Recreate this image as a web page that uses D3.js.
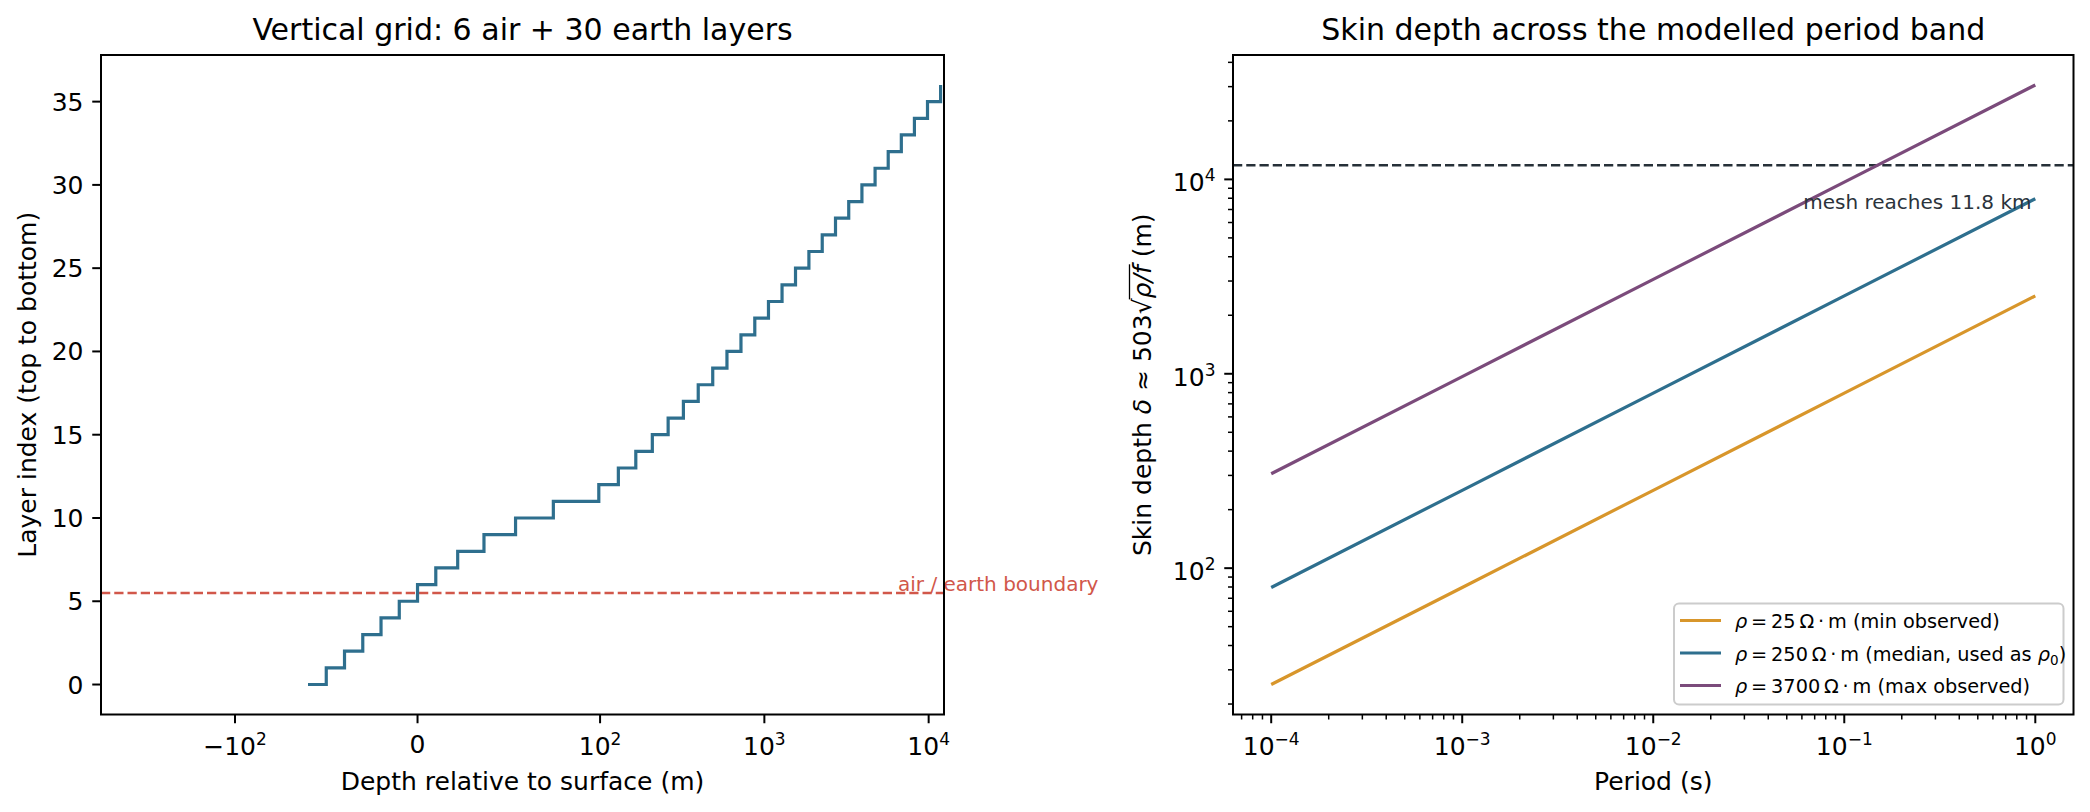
<!DOCTYPE html>
<html>
<head>
<meta charset="utf-8">
<script src="https://cdn.jsdelivr.net/npm/d3@7"></script>
<style>
  html, body { margin: 0; padding: 0; background: #fff; }
  svg { display: block; font-family: "DejaVu Sans", sans-serif; }
</style>
</head>
<body>
<svg id="chart" width="2090" height="812"></svg>
<script>
// ---------------- data ----------------
// left panel: node depths (m), air nodes negative, earth nodes positive
const airNodeDepths = [-60, -50, -40, -30, -20, -10];
const earthNodeDepths = [0, 10, 22, 36.4, 53.7, 74.4, 99.3, 129.2, 165.0, 208.0, 259.6,
  321.5, 395.8, 485.0, 592.0, 720.4, 874.4, 1059.3, 1281.2, 1547.4, 1866.9,
  2250.3, 2710.3, 3262.4, 3924.8, 4719.8, 5673.8, 6818.5, 8192.2, 9840.7, 11818.8];
const boundaryIndex = 5.5;
const leftXLimits = [-654, 12400];
const leftXTicks = [-100, 0, 100, 1000, 10000];
const leftXTickLabels = [["\u221210", "2"], ["0", ""], ["10", "2"], ["10", "3"], ["10", "4"]];
const leftYTicks = [0, 5, 10, 15, 20, 25, 30, 35];

// right panel: skin depth vs period
const periods = [1e-4, 1e-3, 1e-2, 1e-1, 1];
const depthRho25 = [25.2, 79.5, 251.5, 795, 2515];
const depthRho250 = [79.5, 251.5, 795, 2515, 7954];
const depthRho3700 = [306, 967, 3060, 9675, 30596];
const meshDepth = 11818.8;
const seriesNames = ["25", "250", "3700"];
const seriesNotes = ["(min observed)", "(median, used as \u03C1\u2080)", "(max observed)"];
const seriesColors = ["#d8962b", "#2e6f8e", "#7b4b7b"];
const rightXTickExp = [-4, -3, -2, -1, 0];
const rightYTickExp = [2, 3, 4];

// ---------------- layout ----------------
const svg = d3.select("#chart");
const FONT = 25, SMALL = 20, LEG = 19.3;
const LW = 3.2;
const LA = {x0: 101, x1: 944, y0: 55, y1: 714.5};
const RA = {x0: 1233, x1: 2073.5, y0: 55, y1: 714.5};
const TICK = 8.75, MINOR = 5, PAD = 8.75;

// symlog (linthresh 100, linscale 1) like matplotlib
const LT = 100, LS = 1 / (1 - 0.1);
function symT(v) { const a = Math.abs(v); return a <= LT ? v / LT * LS : Math.sign(v) * (LS + Math.log10(a / LT)); }
const xLin = d3.scaleLinear().domain(leftXLimits.map(symT)).range([LA.x0, LA.x1]);
const xL = v => xLin(symT(v));
const nodes = airNodeDepths.concat(earthNodeDepths);
const yL = d3.scaleLinear().domain([-0.05 * (nodes.length - 1), 1.05 * (nodes.length - 1)]).range([LA.y1, LA.y0]);

const tExt = d3.extent(periods).map(Math.log10);
const tM = 0.05 * (tExt[1] - tExt[0]);
const xR = d3.scaleLog().domain([10 ** (tExt[0] - tM), 10 ** (tExt[1] + tM)]).range([RA.x0, RA.x1]);
const dExt = d3.extent(depthRho25.concat(depthRho250, depthRho3700)).map(Math.log10);
const dM = 0.05 * (dExt[1] - dExt[0]);
const yR = d3.scaleLog().domain([10 ** (dExt[0] - dM), 10 ** (dExt[1] + dM)]).range([RA.y1, RA.y0]);

const defs = svg.append("defs");
defs.append("clipPath").attr("id", "clipL").append("rect")
  .attr("x", LA.x0).attr("y", LA.y0).attr("width", LA.x1 - LA.x0).attr("height", LA.y1 - LA.y0);
defs.append("clipPath").attr("id", "clipR").append("rect")
  .attr("x", RA.x0).attr("y", RA.y0).attr("width", RA.x1 - RA.x0).attr("height", RA.y1 - RA.y0);

function supLabel(sel, base, exp, fs) {
  sel.append("tspan").text(base);
  if (exp) sel.append("tspan").attr("font-size", fs * 0.68).attr("dy", -10).text(exp);
}

// ---------------- left panel ----------------
const gL = svg.append("g");
gL.append("line").attr("clip-path", "url(#clipL)")
  .attr("x1", LA.x0).attr("x2", LA.x1).attr("y1", yL(boundaryIndex)).attr("y2", yL(boundaryIndex))
  .attr("stroke", "#d1574a").attr("stroke-width", 2.5).attr("stroke-dasharray", "9.25,4");
const stepLine = d3.line().x(d => xL(d[0])).y(d => yL(d[1])).curve(d3.curveStepAfter);
gL.append("path").attr("clip-path", "url(#clipL)")
  .datum(nodes.map((d, i) => [d, i]))
  .attr("d", stepLine).attr("fill", "none").attr("stroke", "#2e6f8e").attr("stroke-width", LW);
gL.append("text").attr("x", 898).attr("y", yL(boundaryIndex) - 1.5)
  .attr("font-size", SMALL).attr("fill", "#d1574a").text("air / earth boundary");

leftXTicks.forEach((t, i) => {
  const x = xL(t);
  gL.append("line").attr("x1", x).attr("x2", x).attr("y1", LA.y1).attr("y2", LA.y1 + TICK)
    .attr("stroke", "#000").attr("stroke-width", 2);
  const lab = leftXTickLabels[i];
  const tx = gL.append("text").attr("x", x).attr("y", lab[1] ? 754.5 : 753)
    .attr("text-anchor", "middle").attr("font-size", FONT);
  supLabel(tx, lab[0], lab[1], FONT);
});
leftYTicks.forEach(t => {
  const y = yL(t);
  gL.append("line").attr("x1", LA.x0 - TICK).attr("x2", LA.x0).attr("y1", y).attr("y2", y)
    .attr("stroke", "#000").attr("stroke-width", 2);
  gL.append("text").attr("x", LA.x0 - TICK - PAD).attr("y", y + 9)
    .attr("text-anchor", "end").attr("font-size", FONT).text(t);
});
gL.append("rect").attr("x", LA.x0).attr("y", LA.y0).attr("width", LA.x1 - LA.x0).attr("height", LA.y1 - LA.y0)
  .attr("fill", "none").attr("stroke", "#000").attr("stroke-width", 2);
gL.append("text").attr("x", (LA.x0 + LA.x1) / 2).attr("y", 40).attr("text-anchor", "middle")
  .attr("font-size", 30).text("Vertical grid: 6 air + 30 earth layers");
gL.append("text").attr("x", (LA.x0 + LA.x1) / 2).attr("y", 790).attr("text-anchor", "middle")
  .attr("font-size", FONT).text("Depth relative to surface (m)");
gL.append("text").attr("transform", `translate(36,${(LA.y0 + LA.y1) / 2}) rotate(-90)`)
  .attr("text-anchor", "middle").attr("font-size", FONT).text("Layer index (top to bottom)");

// ---------------- right panel ----------------
const gR = svg.append("g");
gR.append("line").attr("clip-path", "url(#clipR)")
  .attr("x1", RA.x0).attr("x2", RA.x1).attr("y1", yR(meshDepth)).attr("y2", yR(meshDepth))
  .attr("stroke", "#263038").attr("stroke-width", 2.5).attr("stroke-dasharray", "9.25,4");
const series = [depthRho25, depthRho250, depthRho3700];
const ln = d3.line().x(d => xR(d[0])).y(d => yR(d[1]));
series.forEach((s, i) => {
  gR.append("path").attr("clip-path", "url(#clipR)")
    .datum(periods.map((p, j) => [p, s[j]]))
    .attr("d", ln).attr("fill", "none").attr("stroke", seriesColors[i]).attr("stroke-width", LW);
});
gR.append("text").attr("x", RA.x0 + 0.95 * (RA.x1 - RA.x0)).attr("y", 209)
  .attr("text-anchor", "end").attr("font-size", SMALL).attr("fill", "#2b333b").text("mesh reaches 11.8 km");

const [xd0, xd1] = xR.domain();
for (let e = -5; e <= 1; e++) {
  for (let m = 1; m <= 9; m++) {
    const v = m * 10 ** e;
    if (v < xd0 * 0.9999 || v > xd1 * 1.0001) continue;
    const x = xR(v);
    const major = m === 1;
    gR.append("line").attr("x1", x).attr("x2", x).attr("y1", RA.y1).attr("y2", RA.y1 + (major ? TICK : MINOR))
      .attr("stroke", "#000").attr("stroke-width", major ? 2 : 1.5);
  }
}
rightXTickExp.forEach(e => {
  const tx = gR.append("text").attr("x", xR(10 ** e)).attr("y", 754.5)
    .attr("text-anchor", "middle").attr("font-size", FONT);
  supLabel(tx, "10", e < 0 ? "\u2212" + Math.abs(e) : String(e), FONT);
});
const [yd0, yd1] = yR.domain();
for (let e = 0; e <= 5; e++) {
  for (let m = 1; m <= 9; m++) {
    const v = m * 10 ** e;
    if (v < yd0 || v > yd1) continue;
    const y = yR(v);
    const major = m === 1;
    gR.append("line").attr("x1", RA.x0 - (major ? TICK : MINOR)).attr("x2", RA.x0).attr("y1", y).attr("y2", y)
      .attr("stroke", "#000").attr("stroke-width", major ? 2 : 1.5);
  }
}
rightYTickExp.forEach(e => {
  const tx = gR.append("text").attr("x", RA.x0 - TICK - PAD).attr("y", yR(10 ** e) + 12)
    .attr("text-anchor", "end").attr("font-size", FONT);
  supLabel(tx, "10", String(e), FONT);
});
gR.append("rect").attr("x", RA.x0).attr("y", RA.y0).attr("width", RA.x1 - RA.x0).attr("height", RA.y1 - RA.y0)
  .attr("fill", "none").attr("stroke", "#000").attr("stroke-width", 2);
gR.append("text").attr("x", (RA.x0 + RA.x1) / 2).attr("y", 40).attr("text-anchor", "middle")
  .attr("font-size", 30).text("Skin depth across the modelled period band");
gR.append("text").attr("x", (RA.x0 + RA.x1) / 2).attr("y", 790).attr("text-anchor", "middle")
  .attr("font-size", FONT).text("Period (s)");

// y label with radical
const yl = gR.append("g").attr("transform", `translate(1151,${(RA.y0 + RA.y1) / 2}) rotate(-90)`);
const ylt = yl.append("text").attr("text-anchor", "middle").attr("font-size", FONT);
ylt.append("tspan").text("Skin depth ");
ylt.append("tspan").attr("font-style", "italic").text("\u03B4");
ylt.append("tspan").text(" \u2248 503");
ylt.append("tspan").text("\u221A");
ylt.append("tspan").attr("font-style", "italic").text("\u03C1/f");
ylt.append("tspan").text(" (m)");
(function () {
  const node = ylt.node();
  const s = node.textContent;
  const i0 = s.indexOf("\u03C1/f");
  const ir = s.indexOf("\u221A");
  const xs = node.getEndPositionOfChar(ir).x - 1;
  const xe = node.getEndPositionOfChar(i0 + 2).x + 1;
  yl.append("line").attr("x1", xs).attr("x2", xe).attr("y1", -21.5).attr("y2", -21.5)
    .attr("stroke", "#000").attr("stroke-width", 1.3);
})();

// legend
const lg = gR.append("g");
lg.append("rect").attr("x", 1674).attr("y", 603.5).attr("width", 389.5).attr("height", 101).attr("rx", 5)
  .attr("fill", "#fff").attr("fill-opacity", 0.8).attr("stroke", "#cccccc").attr("stroke-width", 2);
const rowY = [620.5, 653, 685.5];
seriesNames.forEach((n, i) => {
  lg.append("line").attr("x1", 1680).attr("x2", 1721).attr("y1", rowY[i]).attr("y2", rowY[i])
    .attr("stroke", seriesColors[i]).attr("stroke-width", LW);
  const t = lg.append("text").attr("x", 1735).attr("y", rowY[i] + 7.5).attr("font-size", LEG);
  t.append("tspan").attr("font-style", "italic").text("\u03C1");
  t.append("tspan").text("\u2009=\u2009" + n + "\u2009\u03A9\u2009\u00B7\u2009m ");
  if (i === 1) {
    t.append("tspan").text("(median, used as ");
    t.append("tspan").attr("font-style", "italic").text("\u03C1");
    t.append("tspan").attr("font-size", 13.5).attr("dy", 4).text("0");
    t.append("tspan").attr("dy", -4).text(")");
  } else {
    t.append("tspan").text(seriesNotes[i]);
  }
});
</script>
</body>
</html>
